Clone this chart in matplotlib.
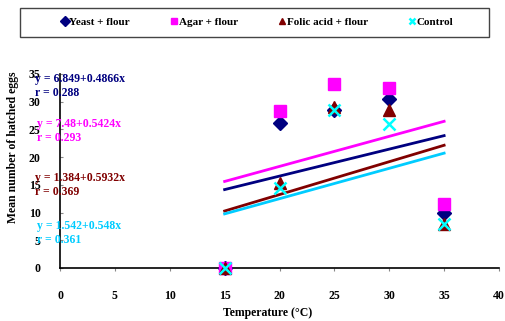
import matplotlib
matplotlib.use("Agg")
import matplotlib.pyplot as plt
from matplotlib.patches import Rectangle
import numpy as np

plt.rcParams['font.family'] = ['Liberation Serif', 'DejaVu Serif']
plt.rcParams['font.weight'] = 'bold'

temperature = [15, 20, 25, 30, 35]
yeast = [0, 26.2, 28.5, 30.4, 9.9]
agar = [0, 28.3, 33.2, 32.4, 11.5]
folic = [0, 15.4, 29.1, 28.5, 8.0]
control = [0, 14.4, 28.5, 25.9, 8.0]

# fitted regression lines: intercept, slope, r
fits = {
    'yeast': (6.849, 0.4866, 0.288),
    'agar': (7.48, 0.5424, 0.293),
    'folic': (1.384, 0.5932, 0.369),
    'control': (1.542, 0.548, 0.361),
}
x_ticks = [0, 5, 10, 15, 20, 25, 30, 35, 40]
y_ticks = [0, 5, 10, 15, 20, 25, 30, 35]

NAVY = '#000080'
MAGENTA = '#FF00FF'
DARKRED = '#800000'
CYAN = '#00FFFF'
SKY = '#00CCFF'
FS = 8.5

fig = plt.figure(figsize=(5.05, 3.21), dpi=100)
ax = fig.add_axes([60/505, 1-268/321, 439/505, 194/321])

series = [
    ('Yeast + flour', yeast, 'D', NAVY, 7, 'yeast', NAVY),
    ('Agar + flour', agar, 's', MAGENTA, 8.5, 'agar', MAGENTA),
    ('Folic acid + flour', folic, '^', DARKRED, 9, 'folic', DARKRED),
    ('Control', control, 'x', CYAN, 9, 'control', SKY),
]

xfit = np.array([temperature[0], temperature[-1]])
for label, vals, mk, col, ms, key, lcol in series:
    if mk == 'x':
        ax.plot(temperature, vals, linestyle='none', marker=mk, color=col,
                markersize=ms, markeredgewidth=1.8, label=label, clip_on=False, zorder=5)
    else:
        ax.plot(temperature, vals, linestyle='none', marker=mk, color=col,
                markersize=ms, label=label, clip_on=False, zorder=4)
    a, b, r = fits[key]
    ax.plot(xfit, a + b * xfit, color=lcol, linewidth=2, zorder=3)

ax.set_xlim(0, 40)
ax.set_ylim(0, 35)
ax.set_xticks(x_ticks)
ax.set_yticks(y_ticks)
ax.tick_params(axis='x', direction='out', length=2, pad=14, labelsize=FS, colors='#888888', labelcolor='black')
ax.tick_params(axis='y', direction='in', length=2, pad=14, labelsize=FS, colors='#888888', labelcolor='black')
for s in ('top', 'right'):
    ax.spines[s].set_visible(False)
for s in ('left', 'bottom'):
    ax.spines[s].set_linewidth(1.2)
    ax.spines[s].set_color('black')

ax.set_xlabel('Temperature (\u00b0C)', fontsize=FS, fontweight='bold')
ax.xaxis.set_label_coords((268-60)/439, -(307-268)/194)
ax.set_ylabel('Mean number of hatched eggs', fontsize=FS, fontweight='bold')
ax.yaxis.set_label_coords(-(60-19)/439, (268-147)/194)

# regression equations
eq_pos = [
    ('yeast', NAVY, 79, 35),
    ('agar', MAGENTA, 124, 37),
    ('folic', DARKRED, 178, 35),
    ('control', SKY, 226, 37),
]
for key, col, ypix, xpix in eq_pos:
    a, b, r = fits[key]
    fig.text(xpix/505, 1-ypix/321, f'y = {a:g}+{b:g}x', color=col, fontsize=FS,
             fontweight='bold', va='center', ha='left', zorder=10)
    fig.text(xpix/505, 1-(ypix+14)/321, f'r = {r:.3f}', color=col, fontsize=FS,
             fontweight='bold', va='center', ha='left', zorder=10)

# legend box across the top
fig.patches.append(Rectangle((20/505, 1-37/321), 469/505, 29/321, transform=fig.transFigure,
                             facecolor='white', edgecolor='#444444', linewidth=1.0))
leg = fig.legend(loc='center', bbox_to_anchor=(257/505, 1-22.5/321),
                 ncol=4, handletextpad=0.0, handlelength=0.8, columnspacing=3.6,
                 frameon=False, prop={'weight': 'bold', 'size': 8})
for h in leg.legend_handles:
    h.set_markersize(5)

fig.savefig('out.png', dpi=100)
